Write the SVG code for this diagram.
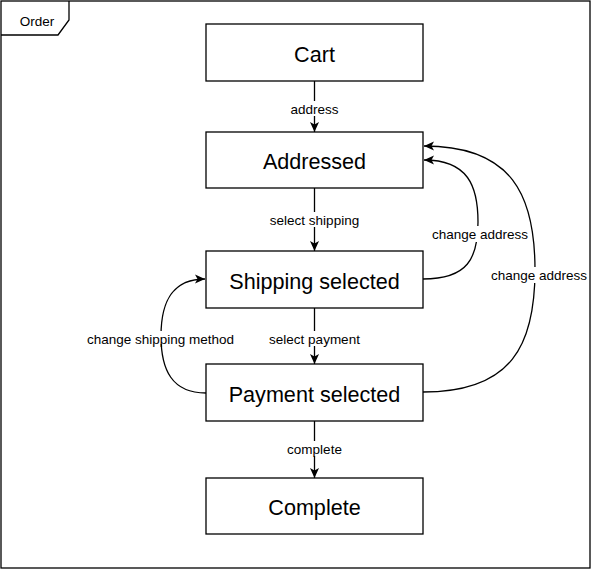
<svg xmlns="http://www.w3.org/2000/svg" width="594" height="571" viewBox="0 0 594 571">
<defs>
<style>
.box{fill:#fff;stroke:#000;stroke-width:1.3}
.nt{font-family:"Liberation Sans",Arial,sans-serif;font-size:21.6px;fill:#000;text-anchor:middle}
.lt{font-family:"Liberation Sans",Arial,sans-serif;font-size:13.5px;fill:#000;text-anchor:middle}
.ln{fill:none;stroke:#000;stroke-width:1.3}
.bg{fill:#fff}
</style>
<marker id="arr" markerWidth="10" markerHeight="10" viewBox="0 0 10 10" refX="10" refY="5" orient="auto" markerUnits="userSpaceOnUse">
<path d="M0,0.5 L10,5 L0,9.5 L2.5,5 Z" fill="#000"/>
</marker>
</defs>
<rect width="594" height="571" fill="#fff"/>
<g id="frame">
<rect x="1" y="1" width="589" height="567" fill="none" stroke="#000" stroke-width="1.3"/>
<path d="M1,35 L58,35 L69,20 L69,1" fill="none" stroke="#000" stroke-width="1.3"/>
<text class="lt" x="37" y="25.5">Order</text>
</g>
<g id="connectors">
<line class="ln" x1="314.5" y1="81" x2="314.5" y2="132" marker-end="url(#arr)"/>
<rect class="bg" x="288" y="101" width="53" height="15"/>
<text class="lt" x="314.5" y="113.5">address</text>
<line class="ln" x1="314.5" y1="188" x2="314.5" y2="251" marker-end="url(#arr)"/>
<rect class="bg" x="270" y="212" width="89" height="15"/>
<text class="lt" x="314.5" y="224.5">select shipping</text>
<line class="ln" x1="314.5" y1="308" x2="314.5" y2="364" marker-end="url(#arr)"/>
<rect class="bg" x="268" y="331" width="93" height="15"/>
<text class="lt" x="314.5" y="343.5">select payment</text>
<line class="ln" x1="314.5" y1="421" x2="314.5" y2="478" marker-end="url(#arr)"/>
<rect class="bg" x="285" y="441" width="59" height="15"/>
<text class="lt" x="314.5" y="453.5">complete</text>
<path class="ln" d="M423,279 C468,279 478,258 478,222 C478,186 468,160 424,160" marker-end="url(#arr)"/>
<rect class="bg" x="431" y="226" width="98" height="16"/>
<text class="lt" x="480" y="238.5">change address</text>
<path class="ln" d="M423,392 C512,392 535,345 535,270 C535,195 512,146 424,146" marker-end="url(#arr)"/>
<rect class="bg" x="490" y="267" width="98" height="16"/>
<text class="lt" x="539" y="279.5">change address</text>
<path class="ln" d="M206,393 C172,393 161,370 161,336 C161,302 172,279 205,279" marker-end="url(#arr)"/>
<rect class="bg" x="86" y="331" width="150" height="13"/>
<text class="lt" x="160.5" y="343.5">change shipping method</text>
</g>
<g id="cart"><rect class="box" x="206" y="24" width="217" height="57"/><text class="nt" x="314.5" y="61.5">Cart</text></g>
<g id="addressed"><rect class="box" x="206" y="132" width="217" height="56"/><text class="nt" x="314.5" y="169">Addressed</text></g>
<g id="shipping"><rect class="box" x="206" y="251" width="217" height="57"/><text class="nt" x="314.5" y="288.5">Shipping selected</text></g>
<g id="payment"><rect class="box" x="206" y="364" width="217" height="57"/><text class="nt" x="314.5" y="401.5">Payment selected</text></g>
<g id="complete"><rect class="box" x="206" y="478" width="217" height="56"/><text class="nt" x="314.5" y="515">Complete</text></g>
</svg>
